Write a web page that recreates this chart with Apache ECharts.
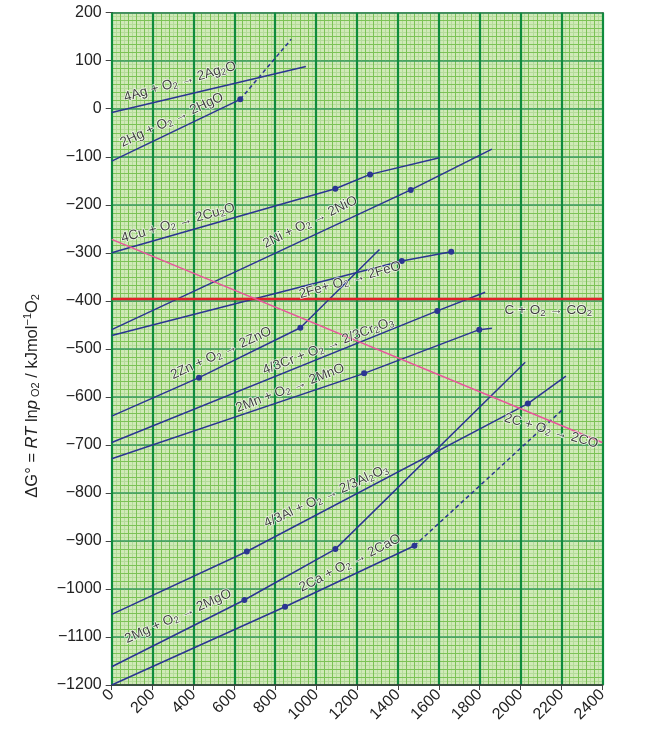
<!DOCTYPE html>
<html>
<head>
<meta charset="utf-8">
<script src="https://cdn.jsdelivr.net/npm/echarts@6/dist/echarts.min.js"></script>
<style>
  html, body { margin: 0; padding: 0; background: #fff; }
  #chart { width: 669px; height: 734px; }
</style>
</head>
<body>
<div id="chart"></div>
<script>
// Ellingham diagram: temperature (°C) vs ΔG° (kJ/mol O2)

// each reaction: temperatures, ΔG values, indexes of the points drawn as dots
var agT = [0, 950];               var agG = [-8, 88];               var agDots = [];
var hgT = [0, 629];               var hgG = [-109, 19.6];           var hgDots = [1];
var hgDashT = [629, 878];         var hgDashG = [19.6, 144.6];
var cuT = [0, 1094, 1264, 1603];  var cuG = [-300, -166.7, -136.7, -102]; var cuDots = [1, 2];
var niT = [0, 1463, 1860];        var niG = [-460, -169, -84];      var niDots = [1];
var feT = [0, 1419, 1661];        var feG = [-472, -317, -298];     var feDots = [1, 2];
var znT = [0, 427, 923, 1310];    var znG = [-640, -560, -456, -293]; var znDots = [1, 2];
var crT = [0, 1593, 1827];        var crG = [-695, -421, -382];     var crDots = [1];
var mnT = [0, 1235, 1798, 1860];  var mnG = [-729, -551, -460, -457]; var mnDots = [1, 2];
var alT = [0, 661, 2036, 2222];   var alG = [-1053, -922, -614, -557]; var alDots = [1, 2];
var mgT = [0, 649, 1094, 2023];   var mgG = [-1162, -1023, -917, -528]; var mgDots = [1, 2];
var caT = [0, 848, 1481];         var caG = [-1200, -1037, -910];   var caDots = [1, 2];
var caDashT = [1481, 2202];       var caDashG = [-910, -628];
var co2T = [0, 2400];             var co2G = [-396, -396];
var coT = [0, 2400];              var coG = [-272, -695];

// reaction labels: text, anchor (T, ΔG), rotation
var labelText = [
  '4Ag + O{s|2} → 2Ag{s|2}O',
  '2Hg + O{s|2} → 2HgO',
  '4Cu + O{s|2} → 2Cu{s|2}O',
  '2Ni + O{s|2} → 2NiO',
  '2Fe+ O{s|2} → 2FeO',
  '2Zn + O{s|2} → 2ZnO',
  '4/3Cr + O{s|2} → 2/3Cr{s|2}O{s|3}',
  '2Mn + O{s|2} → 2MnO',
  '4/3Al + O{s|2} → 2/3Al{s|2}O{s|3}',
  '2Mg + O{s|2} → 2MgO',
  '2Ca + O{s|2} → 2CaO',
  'C + O{s|2} → CO{s|2}',
  '2C + O{s|2} → 2CO'
];
var labelT = [334, 294, 325, 971, 1166, 535, 1059, 873, 1049, 325, 1166, 2136, 2150];
var labelG = [56, -23.5, -238, -236, -357, -509, -494, -582, -807, -1057, -946, -419, -671];
var labelRot = [16, 25, 15.5, 26, 16, 24.5, 21, 21, 24.5, 24, 27, 0, -16];

var FONT = '"Liberation Sans", Arial, sans-serif';
var BLUE = '#2b3592';

function pts(t, g, dots) {
  return t.map(function (v, i) {
    var isDot = dots && dots.indexOf(i) >= 0;
    return { value: [v, g[i]], symbol: isDot ? 'circle' : 'none' };
  });
}

function reaction(t, g, dots) {
  return {
    type: 'line', data: pts(t, g, dots), z: 5,
    showSymbol: true, symbolSize: 6,
    lineStyle: { color: BLUE, width: 1.5 },
    itemStyle: { color: BLUE },
    silent: true
  };
}

function dashed(t, g) {
  var s = reaction(t, g, []);
  s.lineStyle.type = [4, 3];
  return s;
}

function minus(v) {
  return v < 0 ? '\u2212' + (-v) : String(v);
}

var chart = echarts.init(document.getElementById('chart'));

var option = {
  animation: false,
  grid: {
    left: 111.7, right: 66.7, top: 12.7, bottom: 49,
    show: true, backgroundColor: '#d0e9b8', borderWidth: 0
  },
  xAxis: [{
    type: 'value', min: 0, max: 2400, interval: 200, z: 3,
    axisLine: { show: true, onZero: false, lineStyle: { color: '#333', width: 1.5 } },
    axisTick: { show: true, length: 5, lineStyle: { color: '#444' } },
    axisLabel: {
      rotate: 45, margin: 7, fontSize: 16, color: '#222', fontFamily: FONT,
      formatter: function (v) { return String(v); }
    },
    splitLine: { show: true, lineStyle: { color: '#0f8b3d', width: 2.2 } }
  }, {
    type: 'value', min: 0, max: 2400, interval: 40, position: 'top', z: 1,
    axisLine: { show: true, onZero: false, lineStyle: { color: '#555', width: 1.5 } },
    axisTick: { show: false }, axisLabel: { show: false },
    splitLine: { show: true, lineStyle: { color: '#7cc256', width: 1 } },
    minorTick: { show: false, splitNumber: 2 },
    minorSplitLine: { show: true, lineStyle: { color: '#b4db9a', width: 1 } }
  }],
  yAxis: [{
    type: 'value', min: -1200, max: 200, interval: 100, z: 2,
    name: 'ΔG° = {i|RT} ln{i|p}{s| O2} / kJmol{u|−1}O{s|2}',
    nameLocation: 'middle', nameGap: 70,
    nameTextStyle: {
      fontSize: 16.5, color: '#222', fontFamily: FONT,
      padding: [0, 94, 0, 0],
      rich: {
        i: { fontSize: 16.5, fontStyle: 'italic', fontFamily: FONT, color: '#222' },
        s: { fontSize: 11, padding: [8, 0, 0, 0], fontFamily: FONT, color: '#222' },
        u: { fontSize: 11, padding: [0, 0, 8, 0], fontFamily: FONT, color: '#222' }
      }
    },
    axisLine: { show: true, onZero: false, lineStyle: { color: '#333', width: 1.5 } },
    axisTick: { show: true, length: 6, lineStyle: { color: '#444' } },
    axisLabel: { margin: 10, fontSize: 16, color: '#222', fontFamily: FONT, formatter: minus },
    splitLine: { show: true, lineStyle: { color: '#3a9a60', width: 1.5 } },
    minorTick: { show: false, splitNumber: 6 },
    minorSplitLine: { show: true, lineStyle: { color: '#7cc256', width: 1 } }
  }, {
    type: 'value', min: -1200, max: 200, interval: 50, position: 'right', z: 1,
    axisLine: { show: true, onZero: false, lineStyle: { color: '#333', width: 1.5 } },
    axisTick: { show: false }, axisLabel: { show: false },
    splitLine: { show: true, lineStyle: { color: '#7cc256', width: 1 } },
    minorTick: { show: false, splitNumber: 6 },
    minorSplitLine: { show: true, lineStyle: { color: '#b4db9a', width: 1 } }
  }],
  series: [
    reaction(agT, agG, agDots),
    reaction(hgT, hgG, hgDots),
    dashed(hgDashT, hgDashG),
    reaction(cuT, cuG, cuDots),
    reaction(niT, niG, niDots),
    reaction(feT, feG, feDots),
    reaction(znT, znG, znDots),
    reaction(crT, crG, crDots),
    reaction(mnT, mnG, mnDots),
    reaction(alT, alG, alDots),
    reaction(mgT, mgG, mgDots),
    reaction(caT, caG, caDots),
    dashed(caDashT, caDashG),
    {
      type: 'line', data: pts(co2T, co2G), z: 6, showSymbol: false, silent: true,
      lineStyle: { color: '#e3202a', width: 2.5 }
    },
    {
      type: 'line', data: pts(coT, coG), z: 6, showSymbol: false, silent: true,
      lineStyle: { color: '#e8559b', width: 1.5 }
    },
    {
      type: 'scatter', z: 10, silent: true, symbolSize: 1,
      itemStyle: { color: 'rgba(0,0,0,0)' },
      data: labelText.map(function (txt, i) {
        return {
          value: [labelT[i], labelG[i]],
          label: { rotate: labelRot[i], formatter: txt }
        };
      }),
      label: {
        show: true, position: 'inside',
        fontSize: 13.5, color: '#111', fontFamily: FONT,
        textBorderColor: '#fff', textBorderWidth: 1.5,
        rich: {
          s: {
            fontSize: 9.5, padding: [6, 0, 0, 0], color: '#111', fontFamily: FONT,
            textBorderColor: '#fff', textBorderWidth: 1.5
          }
        }
      }
    }
  ]
};

chart.setOption(option);
</script>
</body>
</html>
